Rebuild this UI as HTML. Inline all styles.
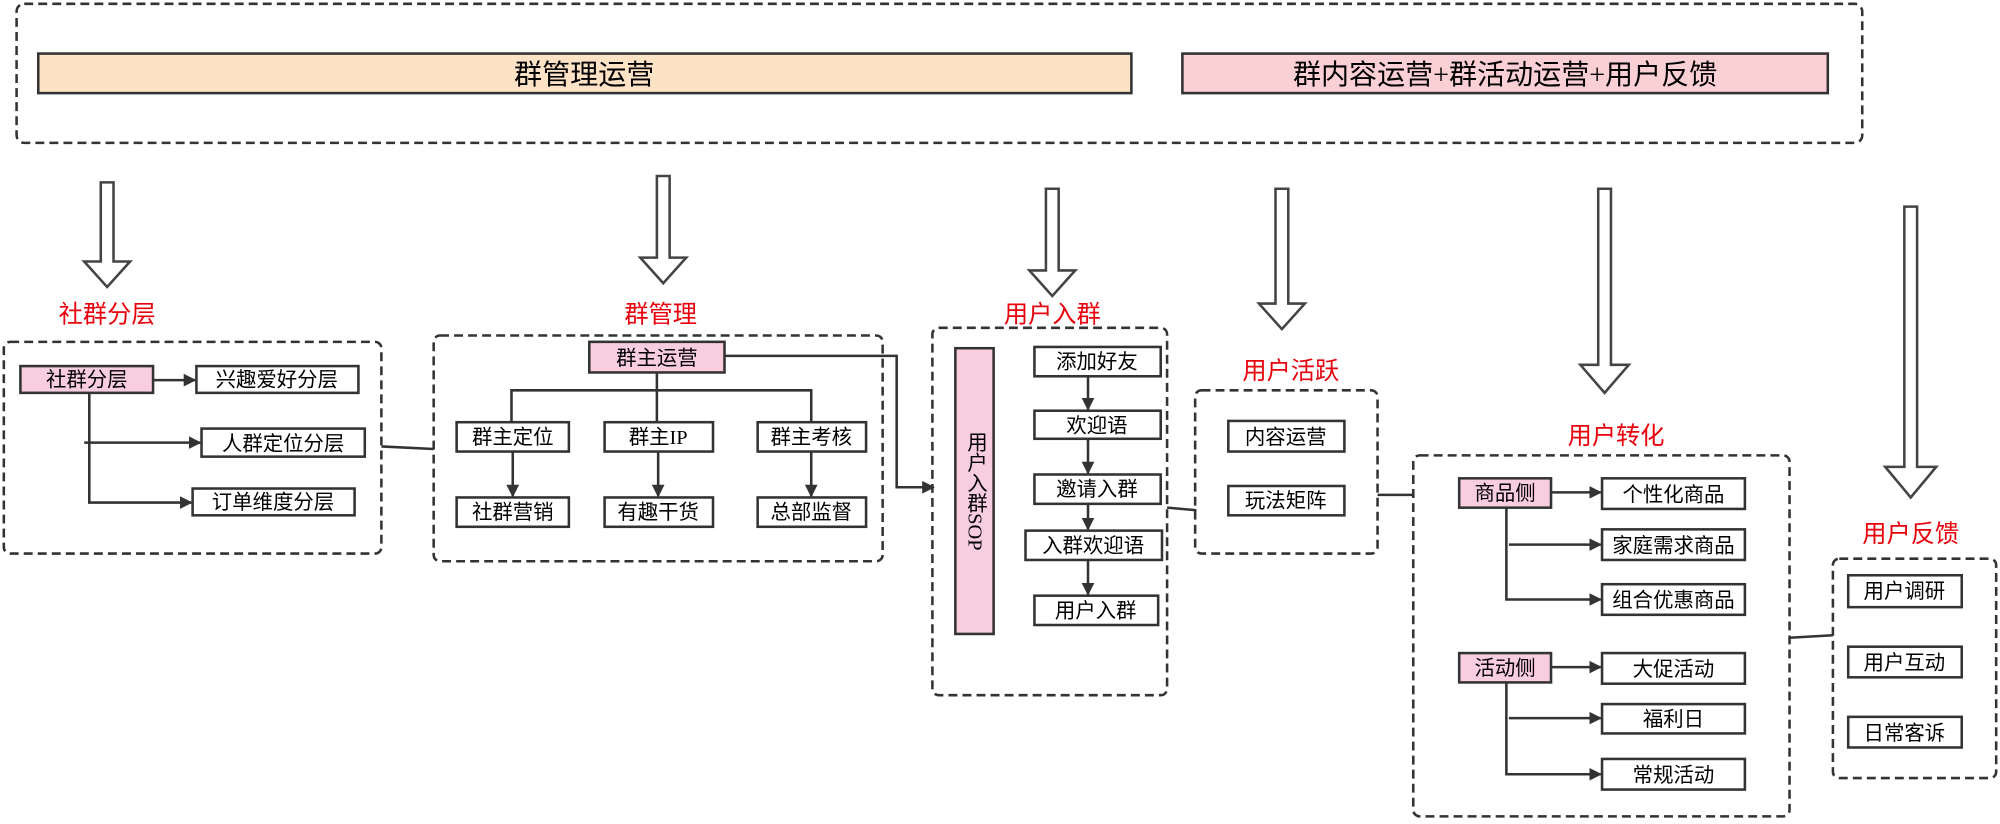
<!DOCTYPE html>
<html><head><meta charset="utf-8"><style>
html,body{margin:0;padding:0;background:#fff;}
svg{display:block;}
text{font-family:"Liberation Serif","Noto Sans CJK SC",sans-serif;}
</style></head><body>
<svg width="2000" height="824" viewBox="0 0 1568 646" preserveAspectRatio="none" xmlns="http://www.w3.org/2000/svg">
<defs>
<marker id="ah" viewBox="0 0 10 10" refX="9" refY="5" markerWidth="5" markerHeight="5" orient="auto"><path d="M0,0 L10,5 L0,10 z" fill="#333"/></marker>
</defs>
<g fill="none" stroke="#333" stroke-width="2" stroke-dasharray="7,4">
<rect x="13" y="3" width="1447" height="109" rx="6"/>
<rect x="3" y="268" width="296" height="166" rx="5"/>
<rect x="340" y="263" width="352" height="177" rx="5"/>
<rect x="731" y="257" width="184" height="288" rx="5"/>
<rect x="937" y="306" width="143" height="128" rx="5"/>
<rect x="1108" y="357" width="295" height="283" rx="5"/>
<rect x="1437" y="438" width="128" height="172" rx="5"/>
</g>
<rect x="30" y="42" width="857" height="31" fill="#fde2c6" stroke="#333" stroke-width="2"/>
<text x="458" y="66" font-size="22" text-anchor="middle">群管理运营</text>
<rect x="927" y="42" width="506" height="31" fill="#fbd0d5" stroke="#333" stroke-width="2"/>
<text x="1180" y="66" font-size="22" text-anchor="middle">群内容运营+群活动运营+用户反馈</text>
<g fill="#fff" stroke="#444" stroke-width="2">
<polygon points="79,143 89,143 89,205 102,205 84,225 66,205 79,205"/>
<polygon points="515,138 525,138 525,202 538,202 520,222 502,202 515,202"/>
<polygon points="820,148 830,148 830,212 843,212 825,232 807,212 820,212"/>
<polygon points="1000,148 1010,148 1010,238 1023,238 1005,258 987,238 1000,238"/>
<polygon points="1253,148 1263,148 1263,286 1277,286 1258,308 1239,286 1253,286"/>
<polygon points="1493,162 1503,162 1503,366 1518,366 1498,390 1478,366 1493,366"/>
</g>
<g fill="#e8000b" font-size="19" text-anchor="middle">
<text x="84" y="253">社群分层</text>
<text x="518" y="253">群管理</text>
<text x="825" y="253">用户入群</text>
<text x="1012" y="297">用户活跃</text>
<text x="1267" y="348">用户转化</text>
<text x="1498" y="425">用户反馈</text>
</g>
<g fill="none" stroke="#333" stroke-width="2">
<line x1="120" y1="298" x2="153" y2="298" marker-end="url(#ah)"/>
<polyline points="70,308 70,394 150,394" marker-end="url(#ah)"/>
<line x1="66" y1="347" x2="157" y2="347" marker-end="url(#ah)"/>
<line x1="299" y1="350" x2="340" y2="352"/>
<line x1="515" y1="292" x2="515" y2="331"/>
<polyline points="401,331 401,306 636,306 636,331"/>
<line x1="402" y1="354" x2="402" y2="389" marker-end="url(#ah)"/>
<line x1="516" y1="354" x2="516" y2="389" marker-end="url(#ah)"/>
<line x1="636" y1="354" x2="636" y2="389" marker-end="url(#ah)"/>
<polyline points="568,279 703,279 703,382 732,382" marker-end="url(#ah)"/>
<line x1="853" y1="295" x2="853" y2="321" marker-end="url(#ah)"/>
<line x1="853" y1="344" x2="853" y2="371" marker-end="url(#ah)"/>
<line x1="853" y1="395" x2="853" y2="415" marker-end="url(#ah)"/>
<line x1="853" y1="439" x2="853" y2="466" marker-end="url(#ah)"/>
<polyline points="915,398 938,400"/>
<line x1="1080" y1="388" x2="1108" y2="388"/>
<line x1="1216" y1="386" x2="1255" y2="386" marker-end="url(#ah)"/>
<polyline points="1181,398 1181,470 1255,470" marker-end="url(#ah)"/>
<line x1="1183" y1="427" x2="1255" y2="427" marker-end="url(#ah)"/>
<line x1="1216" y1="523" x2="1255" y2="523" marker-end="url(#ah)"/>
<polyline points="1181,535 1181,607 1255,607" marker-end="url(#ah)"/>
<line x1="1183" y1="563" x2="1255" y2="563" marker-end="url(#ah)"/>
<line x1="1403" y1="500" x2="1437" y2="498"/>
</g>
<g stroke="#333" stroke-width="2" fill="#fff">
<rect x="16" y="287" width="104" height="21" fill="#f9cde0"/>
<rect x="154" y="287" width="127" height="21"/>
<rect x="158" y="336" width="128" height="22"/>
<rect x="151" y="383" width="127" height="21"/>
<rect x="462" y="268" width="106" height="24" fill="#f9cde0"/>
<rect x="358" y="331" width="88" height="23"/>
<rect x="474" y="331" width="85" height="23"/>
<rect x="594" y="331" width="85" height="23"/>
<rect x="358" y="390" width="88" height="23"/>
<rect x="474" y="390" width="85" height="23"/>
<rect x="594" y="390" width="85" height="23"/>
<rect x="749" y="273" width="30" height="224" fill="#f9cde0"/>
<rect x="811" y="272" width="99" height="23"/>
<rect x="811" y="322" width="99" height="22"/>
<rect x="811" y="372" width="99" height="23"/>
<rect x="804" y="416" width="107" height="23"/>
<rect x="811" y="467" width="97" height="23"/>
<rect x="963" y="330" width="91" height="24"/>
<rect x="963" y="381" width="91" height="23"/>
<rect x="1144" y="375" width="72" height="23" fill="#f9cde0"/>
<rect x="1256" y="375" width="112" height="24"/>
<rect x="1256" y="415" width="112" height="24"/>
<rect x="1256" y="458" width="112" height="24"/>
<rect x="1144" y="512" width="72" height="23" fill="#f9cde0"/>
<rect x="1256" y="512" width="112" height="24"/>
<rect x="1256" y="552" width="112" height="23"/>
<rect x="1256" y="595" width="112" height="24"/>
<rect x="1449" y="451" width="89" height="25"/>
<rect x="1449" y="507" width="89" height="24"/>
<rect x="1449" y="562" width="89" height="24"/>
</g>
<g font-size="16" text-anchor="middle" fill="#000">
<text x="68" y="303">社群分层</text>
<text x="217" y="303">兴趣爱好分层</text>
<text x="222" y="353">人群定位分层</text>
<text x="214" y="399">订单维度分层</text>
<text x="515" y="286">群主运营</text>
<text x="402" y="348">群主定位</text>
<text x="516" y="348">群主IP</text>
<text x="636" y="348">群主考核</text>
<text x="402" y="407">社群营销</text>
<text x="516" y="407">有趣干货</text>
<text x="636" y="407">总部监督</text>
<text x="860" y="289">添加好友</text>
<text x="860" y="339">欢迎语</text>
<text x="860" y="389">邀请入群</text>
<text x="857" y="433">入群欢迎语</text>
<text x="859" y="484">用户入群</text>
<text x="1008" y="348">内容运营</text>
<text x="1008" y="398">玩法矩阵</text>
<text x="1180" y="392">商品侧</text>
<text x="1312" y="393">个性化商品</text>
<text x="1312" y="433">家庭需求商品</text>
<text x="1312" y="476">组合优惠商品</text>
<text x="1180" y="529">活动侧</text>
<text x="1312" y="530">大促活动</text>
<text x="1312" y="569">福利日</text>
<text x="1312" y="613">常规活动</text>
<text x="1493" y="469">用户调研</text>
<text x="1493" y="525">用户互动</text>
<text x="1493" y="580">日常客诉</text>
</g>
<text x="764" y="385" font-size="16" fill="#000" text-anchor="middle" style="writing-mode:vertical-rl">用户入群SOP</text>
</svg>
</body></html>
